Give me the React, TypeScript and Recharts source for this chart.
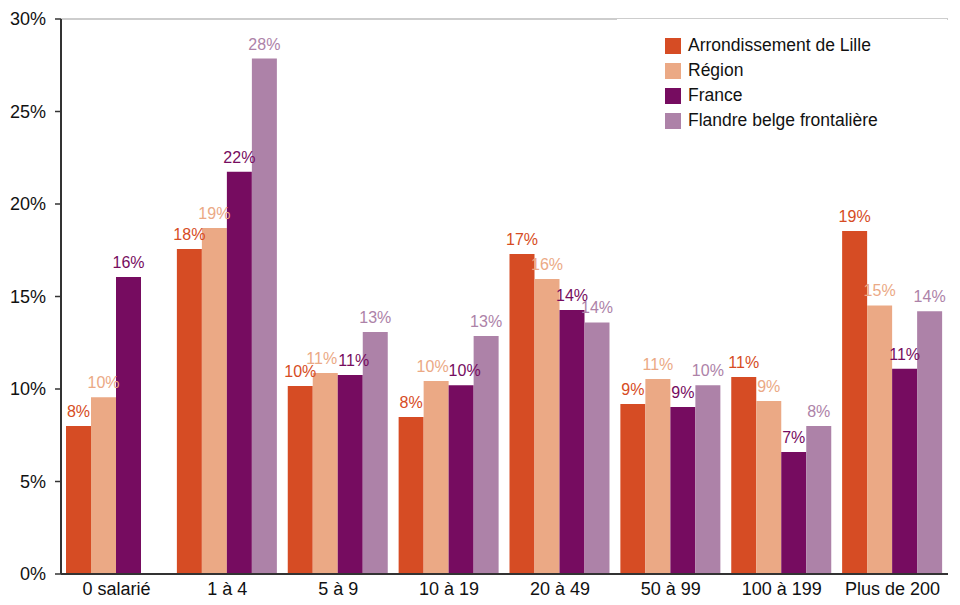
import React from "react";
import {
  BarChart,
  Bar,
  XAxis,
  YAxis,
  CartesianGrid,
  LabelList,
} from "recharts";

const categories = [
  "0 salarié",
  "1 à 4",
  "5 à 9",
  "10 à 19",
  "20 à 49",
  "50 à 99",
  "100 à 199",
  "Plus de 200",
];

const lille = [8.0, 17.57, 10.16, 8.49, 17.3, 9.19, 10.65, 18.54];
const region = [9.55, 18.7, 10.86, 10.43, 15.95, 10.54, 9.35, 14.52];
const france = [16.05, 21.75, 10.76, 10.2, 14.27, 9.03, 6.6, 11.1];
const flandre = [null, 27.86, 13.08, 12.86, 13.6, 10.2, 8.0, 14.2];

const yTicks = [0, 5, 10, 15, 20, 25, 30];

const series = [
  { key: "lille", name: "Arrondissement de Lille", color: "#D64C24", values: lille },
  { key: "region", name: "Région", color: "#EBA985", values: region },
  { key: "france", name: "France", color: "#760C60", values: france },
  { key: "flandre", name: "Flandre belge frontalière", color: "#AD82A8", values: flandre },
];

const data = categories.map((name, i) => ({
  name,
  lille: lille[i],
  region: region[i],
  france: france[i],
  flandre: flandre[i],
}));

const FONT = "'Liberation Sans', Arial, sans-serif";

function fmt(v: any) {
  if (v === null || v === undefined) return "";
  return `${Math.round(v)}%`;
}

// value label above a bar; nudged sideways when the next bar's label sits at about the same height
function makeLabel(sIdx: number, color: string) {
  return (props: any) => {
    const { x, y, width, height, value, index } = props;
    if (value === null || value === undefined) return null;
    const ppu = height / value;
    let shift = 0;
    const left = sIdx > 0 ? series[sIdx - 1].values[index] : null;
    const right = sIdx < series.length - 1 ? series[sIdx + 1].values[index] : null;
    if (left != null && Math.abs(left - value) * ppu < 12) shift += 3.5;
    if (right != null && Math.abs(right - value) * ppu < 12) shift -= 3.5;
    return (
      <text
        x={x + width / 2 + shift}
        y={y - 9}
        textAnchor="middle"
        fill={color}
        fontSize={16}
        fontFamily={FONT}
      >
        {fmt(value)}
      </text>
    );
  };
}

// legend drawn as an html box over the plot, white bg hides the top gridlines
function LegendBox() {
  return (
    <div
      style={{
        position: "absolute",
        left: 617,
        top: 19,
        background: "#fff",
        width: 330,
        height: 122,
        paddingLeft: 48,
        paddingTop: 14,
        boxSizing: "border-box",
        fontFamily: FONT,
        fontSize: 17.5,
        color: "#111",
      }}
    >
      {series.map((s) => (
        <div
          key={s.key}
          style={{ display: "flex", alignItems: "center", height: 25 }}
        >
          <span
            style={{
              display: "inline-block",
              width: 16,
              height: 16,
              background: s.color,
              marginRight: 7,
            }}
          />
          <span>{s.name}</span>
        </div>
      ))}
    </div>
  );
}

export default function App() {
  return (
    <div style={{ position: "absolute", left: 0, top: 0, width: 960, height: 605, fontFamily: FONT }}>
      <BarChart
        width={960}
        height={605}
        data={data}
        margin={{ top: 19, right: 12, left: 0, bottom: 1 }}
        barCategoryGap={5}
        barGap={0}
      >
        <CartesianGrid vertical={false} stroke="#bdbdbd" strokeWidth={1.5} />
        <XAxis
          dataKey="name"
          height={30}
          tickLine={false}
          axisLine={{ stroke: "#333", strokeWidth: 2 }}
          tick={{ fontSize: 18, fill: "#111", fontFamily: FONT }}
          tickSize={6}
          tickMargin={2}
          interval={0}
        />
        <YAxis
          yAxisId="left"
          width={61}
          domain={[0, 30]}
          ticks={yTicks}
          tickFormatter={(v: number) => `${v}%`}
          axisLine={{ stroke: "#333", strokeWidth: 2 }}
          tickLine={{ stroke: "#333", strokeWidth: 1.5 }}
          tickSize={6}
          tickMargin={9}
          tick={{ fontSize: 18, fill: "#111", fontFamily: FONT }}
        />
        <YAxis
          yAxisId="right"
          orientation="right"
          width={0}
          domain={[0, 30]}
          tick={false}
          tickLine={false}
          axisLine={{ stroke: "#bdbdbd", strokeWidth: 1.5 }}
        />
        {series.map((s, i) => (
          <Bar
            key={s.key}
            yAxisId="left"
            dataKey={s.key}
            name={s.name}
            fill={s.color}
            isAnimationActive={false}
          >
            <LabelList dataKey={s.key} content={makeLabel(i, s.color)} />
          </Bar>
        ))}
      </BarChart>
      <LegendBox />
    </div>
  );
}
